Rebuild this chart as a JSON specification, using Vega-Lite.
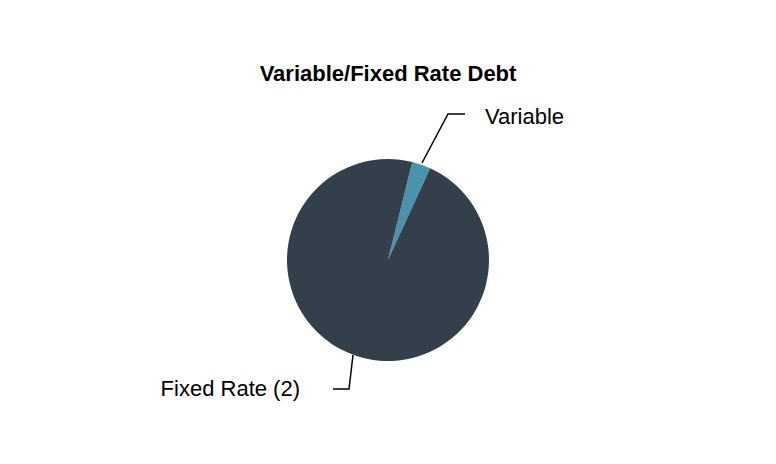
{
  "$schema": "https://vega.github.io/schema/vega-lite/v6.json",
  "autosize": "none",
  "width": 776,
  "height": 336,
  "padding": {"top": 92, "left": 0, "right": 0, "bottom": 36},
  "title": {
    "text": "Variable/Fixed Rate Debt",
    "fontSize": 22,
    "fontWeight": "bold",
    "color": "#000000",
    "font": "Liberation Sans",
    "offset": 6
  },
  "config": {
    "view": {"stroke": null},
    "font": "Liberation Sans"
  },
  "datasets": {
    "debt": [
      {"category": "Variable", "share": 3.0},
      {"category": "Fixed Rate (2)", "share": 97.0}
    ],
    "leaders": [
      {"category": "Variable", "pt": 1, "px": 34, "py": 97},
      {"category": "Variable", "pt": 2, "px": 60, "py": 146},
      {"category": "Variable", "pt": 3, "px": 77, "py": 146},
      {"category": "Fixed Rate (2)", "pt": 1, "px": -35, "py": -95},
      {"category": "Fixed Rate (2)", "pt": 2, "px": -39, "py": -129},
      {"category": "Fixed Rate (2)", "pt": 3, "px": -55, "py": -129}
    ],
    "labels": [
      {"category": "Variable", "px": 97, "py": 143.5},
      {"category": "Fixed Rate (2)", "px": -88, "py": -128.5}
    ]
  },
  "layer": [
    {
      "data": {"name": "debt"},
      "mark": {"type": "arc", "outerRadius": 101},
      "encoding": {
        "theta": {
          "field": "share",
          "type": "quantitative",
          "stack": true,
          "scale": {"range": [0.2426, 6.5258]}
        },
        "order": {"field": "category", "sort": "descending"},
        "color": {
          "field": "category",
          "type": "nominal",
          "scale": {
            "domain": ["Variable", "Fixed Rate (2)"],
            "range": ["#4a93ad", "#333f4a"]
          },
          "legend": null
        }
      }
    },
    {
      "data": {"name": "leaders"},
      "mark": {"type": "line", "color": "#000000", "strokeWidth": 1.5},
      "encoding": {
        "x": {"field": "px", "type": "quantitative", "scale": {"domain": [-388, 388], "nice": false}, "axis": null},
        "y": {"field": "py", "type": "quantitative", "scale": {"domain": [-168, 168], "nice": false}, "axis": null},
        "detail": {"field": "category"},
        "order": {"field": "pt"}
      }
    },
    {
      "data": {"name": "labels"},
      "transform": [{"filter": "datum.category == 'Variable'"}],
      "mark": {"type": "text", "align": "left", "baseline": "middle", "fontSize": 22, "color": "#000000"},
      "encoding": {
        "x": {"field": "px", "type": "quantitative", "scale": {"domain": [-388, 388], "nice": false}, "axis": null},
        "y": {"field": "py", "type": "quantitative", "scale": {"domain": [-168, 168], "nice": false}, "axis": null},
        "text": {"field": "category"}
      }
    },
    {
      "data": {"name": "labels"},
      "transform": [{"filter": "datum.category == 'Fixed Rate (2)'"}],
      "mark": {"type": "text", "align": "right", "baseline": "middle", "fontSize": 22, "color": "#000000"},
      "encoding": {
        "x": {"field": "px", "type": "quantitative", "scale": {"domain": [-388, 388], "nice": false}, "axis": null},
        "y": {"field": "py", "type": "quantitative", "scale": {"domain": [-168, 168], "nice": false}, "axis": null},
        "text": {"field": "category"}
      }
    }
  ]
}
